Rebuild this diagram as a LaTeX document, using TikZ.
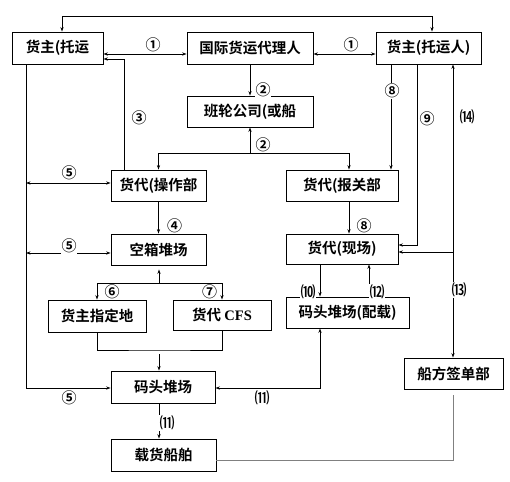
\documentclass[tikz,border=0pt]{standalone}
\usepackage{fontspec}
\newfontfamily\cjk{Noto Sans CJK SC Bold}
\newfontfamily\lat{Liberation Serif}
\usetikzlibrary{arrows.meta}
\tikzset{
  box/.style={draw, line width=0.9pt, inner sep=0pt, font=\cjk\fontsize{14.5}{14.5}\selectfont},
  lab/.style={inner sep=0.5pt, fill=white, font=\cjk\fontsize{15}{15}\selectfont},
  ln/.style={line width=0.7pt},
  >={Stealth[length=4.5pt,width=3.2pt]}
}
\begin{document}
\begin{tikzpicture}[x=1pt,y=-1pt]
\useasboundingbox (0,0) rectangle (510,481);
% boxes
\node[box, minimum width=91pt, minimum height=32pt] (A) at (57.5,48) {货主(托运};
\node[box, minimum width=126pt, minimum height=32pt] (B) at (250,48) {国际货运代理人};
\node[box, minimum width=105pt, minimum height=32pt] (C) at (428.5,48) {货主(托运人)};
\node[box, minimum width=126pt, minimum height=31pt] (D) at (250,111.5) {班轮公司(或船};
\node[box, minimum width=95pt, minimum height=31pt] (E) at (158.5,185.5) {货代(操作部};
\node[box, minimum width=112pt, minimum height=31pt] (F) at (342,185.5) {货代(报关部};
\node[box, minimum width=95pt, minimum height=31pt] (G) at (158.5,249.5) {空箱堆场};
\node[box, minimum width=112pt, minimum height=30pt] (H) at (342,249) {货代(现场)};
\node[box, minimum width=98pt, minimum height=32pt] (I) at (97,316) {货主指定地};
\node[box, minimum width=98pt, minimum height=30pt] (J) at (222,315) {货代 {\lat\bfseries CFS}};
\node[box, minimum width=123pt, minimum height=31pt] (K) at (347.5,312.5) {码头堆场(配载)};
\node[box, minimum width=104pt, minimum height=32pt] (L) at (163,387) {码头堆场};
\node[box, minimum width=99pt, minimum height=31pt] (M) at (453.5,373.5) {船方签单部};
\node[box, minimum width=105pt, minimum height=32pt] (N) at (163.5,455) {载货船舶};
% coordinates
\coordinate (t1) at (62,16);
\coordinate (t2) at (432,16);
\coordinate (r1) at (0,54);
\coordinate (j2) at (250,153);
\coordinate (v5) at (26,0);
\coordinate (j67) at (159,283);
\coordinate (jm) at (159,350);
\coordinate (j13) at (453,252);
% connectors
\draw[ln,<->] (A.north -| t1) -- (t1) -- (t2) -- (C.north -| t2);
\draw[ln,<->] (A.east |- r1) -- (B.west |- r1);
\draw[ln,<->] (B.east |- r1) -- (C.west |- r1);
\draw[ln,->] (B) -- (D);
\draw[ln,->] (j2) -- (D.south);
\draw[ln,->] (j2) -| (E.north);
\draw[ln,->] (j2) -| ([xshift=7pt]F.north);
\draw[ln,->] ([xshift=-34.5pt]E.north) |- ([yshift=-11pt]A.east);
\draw[ln,->] ([xshift=-37.5pt]C.south) -- ([xshift=-37.5pt]C.south |- F.north);
\draw[ln,->] ([xshift=-11.5pt]C.south) |- ([yshift=4pt]H.east);
\draw[ln,<->] (C.south -| j13) -- (M.north -| j13);
\draw[ln,->] (j13) -- (H.east |- j13);
\draw[ln,->] ([xshift=7pt]F.south) -- ([xshift=7pt]H.north);
\draw[ln,->] ([xshift=-22pt]H.south) -- ([xshift=-22pt]H.south |- K.north);
\draw[ln,->] ([xshift=27pt]H.south |- K.north) -- ([xshift=27pt]H.south);
\draw[ln,->] (E) -- (G);
\draw[ln,->] (A.south -| v5) |- ([yshift=-1pt]L.west);
\draw[ln,<->] ([yshift=2.5pt]E.west -| v5) -- ([yshift=2.5pt]E.west);
\draw[ln,<->] ([yshift=-3.5pt]G.west -| v5) -- ([yshift=-3.5pt]G.west);
\draw[ln,->,shorten >=4pt] (j67) -- (j67 |- G.south);
\draw[ln,->] (j67) -| (I.north);
\draw[ln,->] (j67) -| (J.north);
\draw[ln] (I.south) |- (jm) -| (J.south);
\draw[ln,->,shorten <=4pt] (jm) -- (jm |- L.north);
\draw[ln,->] (L.south -| jm) -- (N.north -| jm);
\draw[ln,<->] ([yshift=-1pt]L.east) -| ([xshift=-27.5pt]K.south);
\draw[ln,gray,shorten <=6pt] (M.south) |- ([yshift=-5pt]N.east);
% labels
\node[lab] (l1a) at (153,45) {①};
\node[lab] (l1b) at (351,45) {①};
\node[lab] (l2a) at (263,90) {②};
\node[lab] (l2b) at (263,145) {②};
\node[lab] (l3) at (139,118) {③};
\node[lab] (l8a) at (392,91) {⑧};
\node[lab] (l9) at (427,119) {⑨};
\node[lab] (l14) at (467,117) {⒁};
\node[lab] (l13) at (459,290) {⒀};
\node[lab] (l5a) at (69,173) {⑤};
\node[lab] (l5b) at (69,246) {⑤};
\node[lab] (l5c) at (69,398) {⑤};
\node[lab] (l4) at (174.5,226) {④};
\node[lab] (l6) at (112,292) {⑥};
\node[lab] (l7) at (209.5,292) {⑦};
\node[lab] (l8b) at (364,226) {⑧};
\node[lab] (l10) at (308,292) {⑽};
\node[lab] (l12) at (377,292) {⑿};
\node[lab] (l11a) at (167,423) {⑾};
\node[lab] (l11b) at (262,398) {⑾};
\end{tikzpicture}
\end{document}
